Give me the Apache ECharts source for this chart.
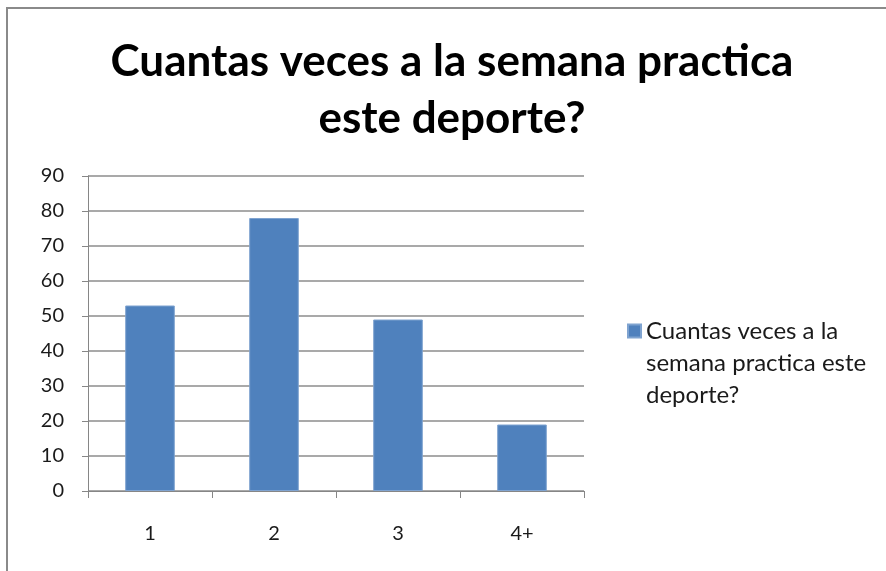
<!DOCTYPE html>
<html>
<head>
<meta charset="utf-8">
<script src="https://cdn.jsdelivr.net/npm/echarts@6/dist/echarts.min.js"></script>
<style>
  html, body { margin: 0; padding: 0; background: #fff; }
  #chart { width: 886px; height: 571px; }
</style>
</head>
<body>
<div id="chart"></div>
<script>
// Weekly practice frequency survey
const titleText = 'Cuantas veces a la semana practica\neste deporte?';
const seriesName = 'Cuantas veces a la semana practica este deporte?';
const legendLines = ['Cuantas veces a la', 'semana practica este', 'deporte?'];
const categories = ['1', '2', '3', '4+'];
const counts = [53, 78, 49, 19];
const yTicks = [0, 10, 20, 30, 40, 50, 60, 70, 80, 90];

const FONT = 'Lato, "Open Sans", sans-serif';
const LEGEND_LINE = 32;
const chart = echarts.init(document.getElementById('chart'), null, { renderer: 'canvas' });

// Legend marker: a square beside the first text line; the trailing moveTo
// stretches the symbol box over all wrapped lines so the text sits below it.
const legendBoxH = LEGEND_LINE * legendLines.length;
const legendIcon = 'path://M0,9.5h13v13h-13zM0,0M0,' + legendBoxH;

chart.setOption({
  animation: false,
  backgroundColor: '#ffffff',
  title: {
    text: titleText,
    left: 447,
    top: 28,
    textAlign: 'center',
    textStyle: {
      fontFamily: FONT,
      fontWeight: 'bold',
      fontSize: 44,
      lineHeight: 57,
      color: '#000000'
    }
  },
  graphic: [{
    type: 'rect',
    shape: { x: 7, y: 8, width: 900, height: 600 },
    style: { fill: 'none', stroke: '#8a8a8a', lineWidth: 2 },
    silent: true,
    z: 100
  }],
  legend: {
    orient: 'vertical',
    left: 627,
    top: 314,
    padding: 0,
    icon: legendIcon,
    itemWidth: 13,
    itemHeight: legendBoxH,
    formatter: function () {
      return legendLines.join('\n');
    },
    textStyle: {
      fontFamily: FONT,
      fontSize: 24,
      lineHeight: LEGEND_LINE,
      color: '#1a1a1a'
    },
    data: [seriesName]
  },
  grid: {
    left: 88,
    right: 302,
    top: 176,
    bottom: 80,
    containLabel: false
  },
  xAxis: {
    type: 'category',
    data: categories,
    axisLine: { show: true, lineStyle: { color: '#868686', width: 1 } },
    axisTick: { show: true, length: 7, alignWithLabel: false, lineStyle: { color: '#868686' } },
    axisLabel: {
      margin: 33,
      fontFamily: FONT,
      fontSize: 20,
      color: '#1a1a1a'
    }
  },
  yAxis: {
    type: 'value',
    min: yTicks[0],
    max: yTicks[yTicks.length - 1],
    interval: 10,
    axisLine: { show: true, lineStyle: { color: '#868686', width: 1 } },
    axisTick: { show: true, length: 6, lineStyle: { color: '#868686' } },
    axisLabel: {
      margin: 24,
      fontFamily: FONT,
      fontSize: 20,
      color: '#1a1a1a'
    },
    splitLine: { show: true, lineStyle: { color: '#8c8c8c', width: 1.5 } }
  },
  series: [{
    name: seriesName,
    type: 'bar',
    data: counts,
    barWidth: '40%',
    itemStyle: {
      color: '#4F81BD',
      borderColor: '#7fa3d0',
      borderWidth: 1
    }
  }]
});
</script>
</body>
</html>
